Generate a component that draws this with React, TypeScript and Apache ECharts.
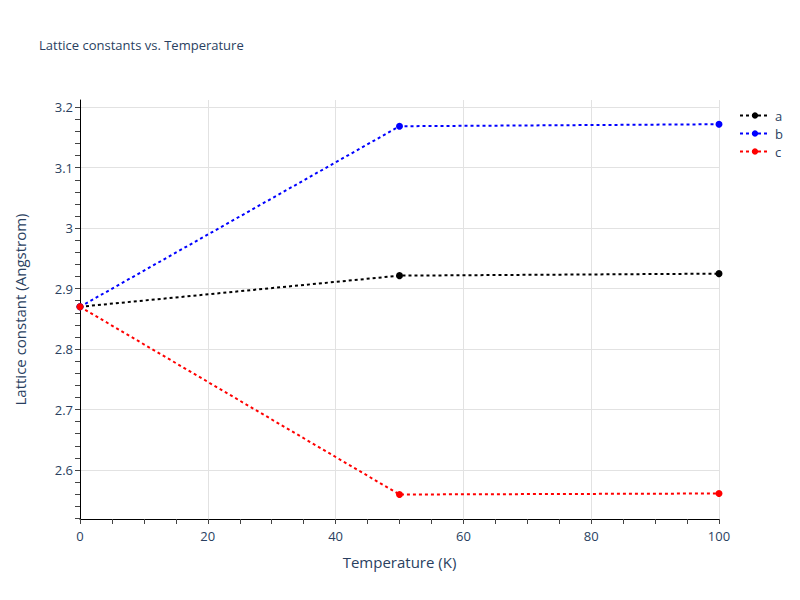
import React, { useEffect, useRef } from "react";
import * as echarts from "echarts";

const temperatures = [0, 50, 100];
const seriesA = [2.87, 2.9215, 2.9248];
const seriesB = [2.87, 3.1686, 3.1719];
const seriesC = [2.87, 2.5595, 2.5612];
const seriesNames = ["a", "b", "c"];
const seriesColors = ["#000000", "#0000ff", "#ff0000"];
const yLabelValues = [2.6, 2.7, 2.8, 2.9, 3.0, 3.1, 3.2];
const yTickValues = [
  2.52, 2.54, 2.56, 2.58, 2.6, 2.62, 2.64, 2.66, 2.68, 2.7, 2.72, 2.74, 2.76,
  2.78, 2.8, 2.82, 2.84, 2.86, 2.88, 2.9, 2.92, 2.94, 2.96, 2.98, 3.0, 3.02,
  3.04, 3.06, 3.08, 3.1, 3.12, 3.14, 3.16, 3.18, 3.2,
];

const FONT = "Open Sans";
const TEXT = "#2a3f5f";

export default function App() {
  const ref = useRef<HTMLDivElement>(null);
  useEffect(() => {
    if (!ref.current) return;
    const chart = echarts.init(ref.current, undefined, { renderer: "svg" });
    const datasets = [seriesA, seriesB, seriesC];
    const yMin = 2.519;
    const yMax = 3.212;
    chart.setOption({
      animation: false,
      backgroundColor: "#ffffff",
      textStyle: { fontFamily: FONT },
      title: {
        text: "Lattice constants vs. Temperature",
        left: 34,
        top: 33,
        textStyle: { fontFamily: FONT, fontSize: 13, fontWeight: "normal", color: TEXT },
      },
      legend: {
        left: 734,
        top: 104,
        orient: "vertical",
        itemWidth: 30,
        itemHeight: 8,
        itemGap: 5,
        textStyle: { fontFamily: FONT, fontSize: 13, color: TEXT },
        data: seriesNames,
      },
      grid: { left: 80, right: 81, top: 100, bottom: 81, containLabel: false },
      xAxis: {
        type: "value",
        min: 0,
        max: 100,
        interval: 20,
        name: "Temperature (K)",
        nameLocation: "middle",
        nameGap: 35,
        nameTextStyle: { fontFamily: FONT, fontSize: 15, color: TEXT },
        axisLine: { show: true, onZero: false, lineStyle: { color: "#000", width: 1 } },
        axisTick: { show: true, inside: false, length: 5, lineStyle: { color: "#444" } },
        minorTick: { show: true, splitNumber: 4, length: 5, lineStyle: { color: "#444" } },
        axisLabel: { fontFamily: FONT, fontSize: 13, color: TEXT, margin: 10 },
        splitLine: { show: true, lineStyle: { color: "#e2e2e2", width: 1 } },
      },
      yAxis: [
        {
          type: "value",
          min: yMin,
          max: yMax,
          name: "Lattice constant (Angstrom)",
          nameLocation: "middle",
          nameGap: 53,
          nameTextStyle: { fontFamily: FONT, fontSize: 15, color: TEXT },
          axisLine: { show: true, onZero: false, lineStyle: { color: "#000", width: 1 } },
          axisTick: {
            show: true,
            inside: false,
            length: 5,
            customValues: yTickValues,
            lineStyle: { color: "#444" },
          },
          axisLabel: {
            fontFamily: FONT,
            fontSize: 13,
            color: TEXT,
            margin: 7,
            customValues: yLabelValues,
            formatter: (v: number) => String(Math.round(v * 10) / 10),
          },
          splitLine: { show: false },
        },
        {
          type: "value",
          min: yMin,
          max: yMax,
          position: "left",
          axisLine: { show: false },
          axisTick: { show: false, customValues: yLabelValues },
          axisLabel: { show: false, customValues: yLabelValues },
          splitLine: { show: true, lineStyle: { color: "#e2e2e2", width: 1 } },
        },
      ],
      series: seriesNames.map((name, i) => ({
        name,
        type: "line",
        yAxisIndex: 0,
        data: temperatures.map((t, j) => [t, datasets[i][j]]),
        symbol: "circle",
        symbolSize: 7,
        showSymbol: true,
        color: seriesColors[i],
        itemStyle: { color: seriesColors[i] },
        lineStyle: { color: seriesColors[i], width: 2, type: [3, 3] },
        z: 3 + i,
      })),
    });
    return () => chart.dispose();
  }, []);
  return <div ref={ref} style={{ width: 800, height: 600, position: "absolute", left: 0, top: 0 }} />;
}
